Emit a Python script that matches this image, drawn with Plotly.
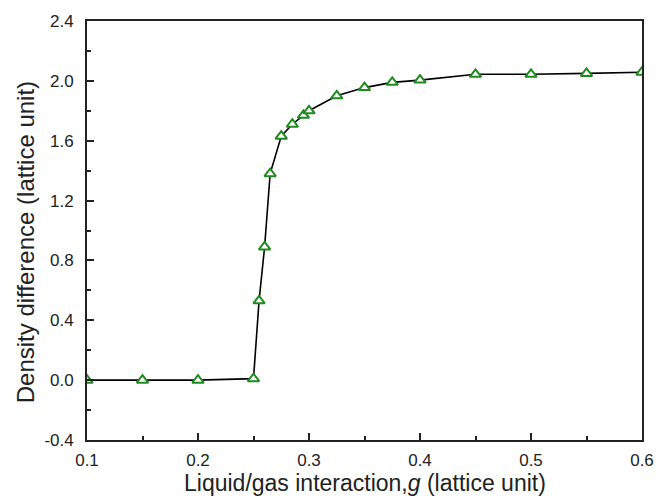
import plotly.graph_objects as go

g_values = [0.10, 0.15, 0.20, 0.25, 0.255, 0.26, 0.265, 0.275, 0.285, 0.295, 0.30,
            0.325, 0.35, 0.375, 0.40, 0.45, 0.50, 0.55, 0.60]
density_diff = [0.00, 0.00, 0.00, 0.01, 0.53, 0.89, 1.38, 1.63, 1.71, 1.77, 1.80,
                1.90, 1.955, 1.99, 2.005, 2.044, 2.044, 2.05, 2.058]

x_ticks = [0.1, 0.2, 0.3, 0.4, 0.5, 0.6]
y_ticks = [-0.4, 0.0, 0.4, 0.8, 1.2, 1.6, 2.0, 2.4]

x_title = "Liquid/gas interaction,<i>g</i> (lattice unit)"
y_title = "Density difference (lattice unit)"

fig = go.Figure()
fig.add_trace(go.Scatter(
    x=g_values, y=density_diff, mode="lines+markers",
    line=dict(color="black", width=1.6),
    marker=dict(symbol="triangle-up", size=10, color="white",
                line=dict(color="#1f8a1f", width=2)),
    showlegend=False,
))

font = "Liberation Sans, Arial, sans-serif"
fig.update_layout(
    width=666, height=498,
    margin=dict(l=87, r=14, t=20, b=58),
    paper_bgcolor="white", plot_bgcolor="white",
    font=dict(family=font, color="#222222", size=17),
    xaxis=dict(
        range=[0.1, 0.6], tickvals=x_ticks, ticktext=[f"{v:.1f}" for v in x_ticks],
        ticks="inside", ticklen=7, tickwidth=1.5, tickcolor="#222",
        minor=dict(dtick=0.05, tick0=0.1, ticks="inside", ticklen=4, tickwidth=1.5, tickcolor="#222"),
        showline=True, linecolor="#222", linewidth=1.8, mirror=True,
        showgrid=False, zeroline=False,
        tickfont=dict(size=17), ticklabelstandoff=4,
    ),
    yaxis=dict(
        range=[-0.4, 2.4], tickvals=y_ticks, ticktext=[f"{v:.1f}" for v in y_ticks],
        ticks="inside", ticklen=7, tickwidth=1.5, tickcolor="#222",
        minor=dict(dtick=0.2, tick0=0, ticks="inside", ticklen=4, tickwidth=1.5, tickcolor="#222"),
        showline=True, linecolor="#222", linewidth=1.8, mirror=True,
        showgrid=False, zeroline=False,
        tickfont=dict(size=17), ticklabelstandoff=8,
    ),
    annotations=[
        dict(text=x_title, xref="paper", yref="paper", x=0.5, y=-0.1024,
             xanchor="center", yanchor="middle", showarrow=False,
             font=dict(size=23, family=font, color="#222222")),
        dict(text=y_title, xref="paper", yref="paper", x=-0.1106, y=0.471,
             xanchor="center", yanchor="middle", textangle=-90, showarrow=False,
             font=dict(size=24, family=font, color="#222222")),
    ],
)

fig.write_html("out.html")
